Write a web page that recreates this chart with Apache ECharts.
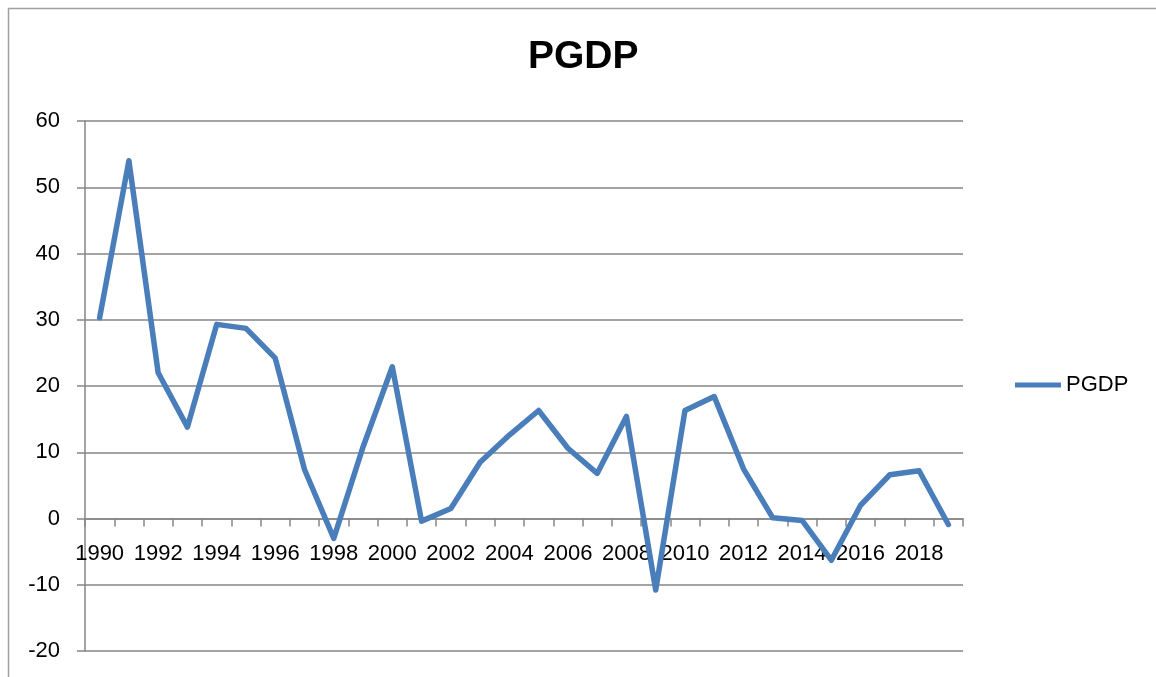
<!DOCTYPE html>
<html>
<head>
<meta charset="utf-8">
<script src="https://cdn.jsdelivr.net/npm/echarts@6/dist/echarts.min.js"></script>
<style>
html,body{margin:0;padding:0;background:#fff;}
#main{width:1156px;height:677px;}
</style>
</head>
<body>
<div id="main"></div>
<script>
const years = ['1990','1991','1992','1993','1994','1995','1996','1997','1998','1999',
  '2000','2001','2002','2003','2004','2005','2006','2007','2008','2009',
  '2010','2011','2012','2013','2014','2015','2016','2017','2018','2019'];
const pgdp = [30.3, 54.0, 22.0, 13.8, 29.3, 28.7, 24.2, 7.4, -3.0, 10.8,
  22.9, -0.4, 1.5, 8.5, 12.6, 16.3, 10.6, 6.8, 15.4, -10.8,
  16.3, 18.4, 7.5, 0.1, -0.3, -6.3, 2.0, 6.6, 7.2, -0.9];
const seriesName = 'PGDP';
const titleText = 'PGDP';
const yMin = -20, yMax = 60, yStep = 10;

const font = 'Liberation Sans';
const W = 1156, H = 677;
const gridTop = 121, gridBottom = 26;
const gridH = H - gridTop - gridBottom;
// place the category axis on the value 0 line
const zeroOffset = -gridH * (0 - yMin) / (yMax - yMin);

const chart = echarts.init(document.getElementById('main'), null, {renderer:'canvas'});
chart.setOption({
  animation: false,
  backgroundColor: '#ffffff',
  graphic: [{
    type: 'rect',
    shape: {x: 8.5, y: 8.5, width: 1200, height: 700},
    style: {fill: 'none', stroke: '#a0a0a0', lineWidth: 1.5},
    silent: true
  }],
  title: {
    text: titleText,
    left: 528,
    top: 38,
    padding: 0,
    textStyle: {fontFamily: font, fontSize: 39, fontWeight: 'bold', color: '#000'}
  },
  legend: {
    data: [{name: seriesName, icon: 'rect'}],
    left: 1015,
    top: 374,
    padding: 0,
    itemWidth: 46,
    itemHeight: 5,
    itemGap: 6,
    textStyle: {fontFamily: font, fontSize: 22, color: '#000'}
  },
  grid: {left: 85, right: 193, top: gridTop, bottom: gridBottom, containLabel: false, outerBoundsMode: 'none'},
  xAxis: {
    type: 'category',
    data: years,
    position: 'bottom',
    offset: zeroOffset,
    boundaryGap: true,
    axisLine: {onZero: false, lineStyle: {color: '#868686', width: 1.5}},
    axisTick: {show: true, length: 8, inside: false, alignWithLabel: false, interval: 0, lineStyle: {color: '#868686', width: 1.5}},
    axisLabel: {interval: 1, margin: 24, fontFamily: font, fontSize: 22, color: '#000'},
    splitLine: {show: false}
  },
  yAxis: {
    type: 'value',
    min: yMin, max: yMax, interval: yStep,
    axisLine: {show: true, onZero: false, lineStyle: {color: '#868686', width: 1.5}},
    axisTick: {show: true, length: 8, lineStyle: {color: '#868686', width: 1.5}},
    axisLabel: {margin: 25, fontFamily: font, fontSize: 22, color: '#000'},
    splitLine: {show: true, lineStyle: {color: '#868686', width: 1.5}}
  },
  series: [{
    name: seriesName,
    type: 'line',
    data: pgdp,
    symbol: 'none',
    showSymbol: false,
    itemStyle: {color: '#4a7ebb'},
    lineStyle: {color: '#4a7ebb', width: 5.5, cap: 'round', join: 'round'}
  }]
});
</script>
</body>
</html>
